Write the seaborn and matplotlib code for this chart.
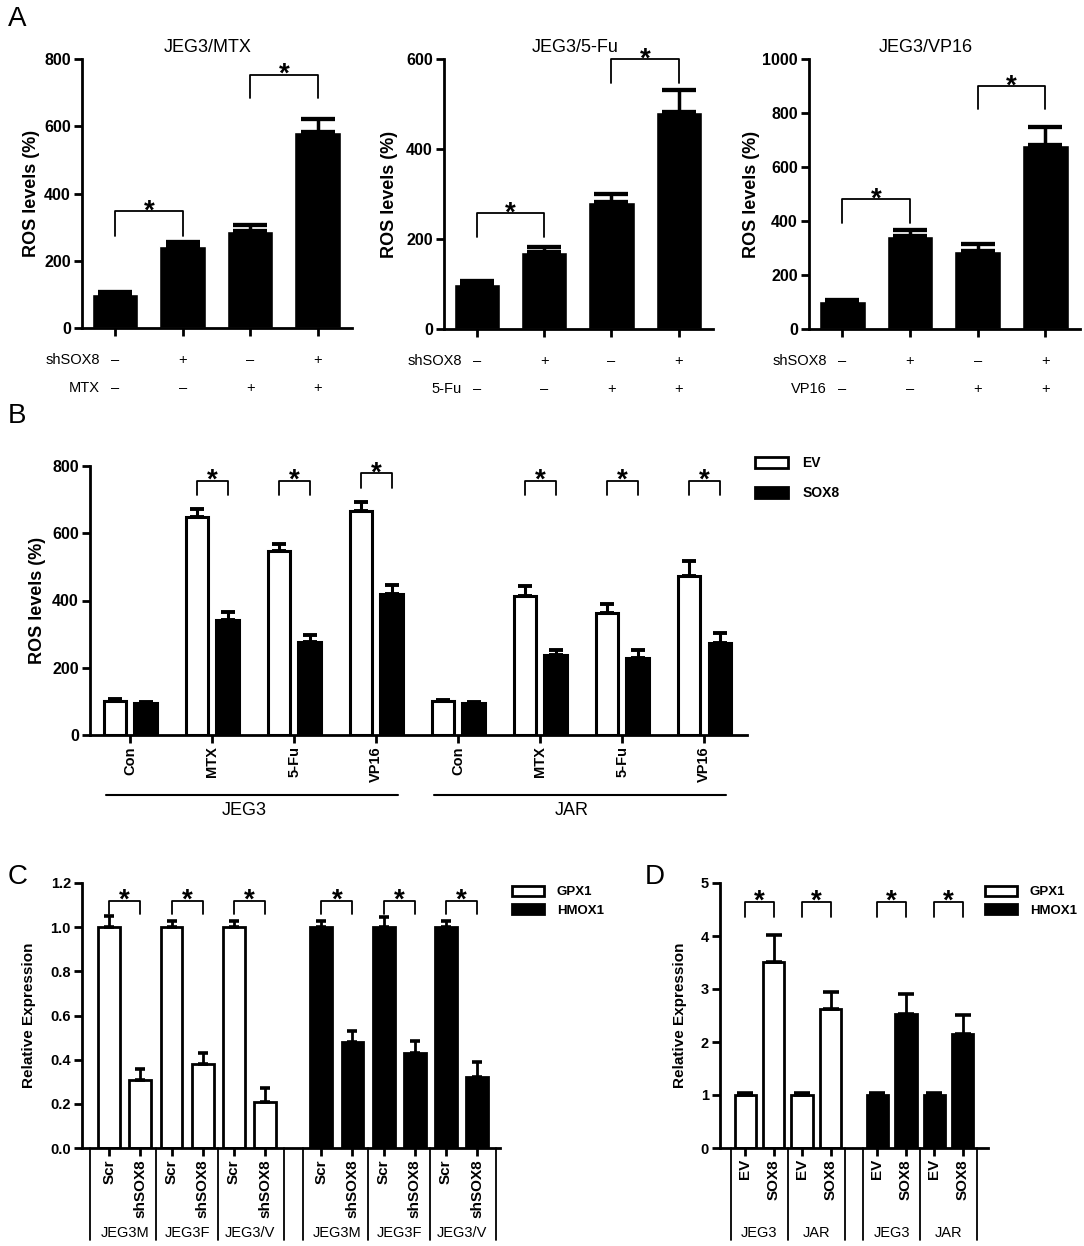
import numpy as np
import pandas as pd
import matplotlib
matplotlib.use("Agg")
import matplotlib.pyplot as plt
import matplotlib.transforms as mtransforms
from matplotlib.patches import Patch
import seaborn as sns

# ---------------- data ----------------
# A: JEG3 cells, shSOX8 and drug treatment
a_titles = ["JEG3/MTX", "JEG3/5-Fu", "JEG3/VP16"]
a_drugs = ["MTX", "5-Fu", "VP16"]
a_mtx = [102, 243, 287, 582]
a_mtx_err = [5, 12, 19, 40]
a_5fu = [101, 172, 283, 482]
a_5fu_err = [6, 11, 17, 50]
a_vp16 = [104, 344, 290, 680]
a_vp16_err = [5, 22, 23, 67]
a_ymax = [800, 600, 1000]
a_sh_signs = ["–", "+", "–", "+"]
a_drug_signs = ["–", "–", "+", "+"]
# brackets: (left bar, right bar, top, leg end)
a_brackets = [
    [(0, 1, 347, 274), (2, 3, 752, 683)],
    [(0, 1, 257, 204), (2, 3, 599, 547)],
    [(0, 1, 480, 392), (2, 3, 899, 813)],
]

# B: EV vs SOX8 overexpression
b_cells = ["JEG3", "JAR"]
b_treat = ["Con", "MTX", "5-Fu", "VP16"]
b_ev = [102, 648, 548, 665, 101, 413, 363, 472]
b_ev_err = [4, 24, 20, 27, 4, 29, 28, 44]
b_sox8 = [95, 343, 278, 418, 96, 237, 228, 274]
b_sox8_err = [3, 23, 19, 27, 3, 17, 25, 28]
b_brk_cat = [1, 2, 3, 5, 6, 7]
b_brk_top = [755, 755, 778, 755, 755, 755]
b_brk_leg = [714, 714, 735, 714, 714, 714]

# C: knockdown, relative expression
c_genes = ["GPX1", "HMOX1"]
c_lines = ["JEG3M", "JEG3F", "JEG3/V"]
c_arms = ["Scr", "shSOX8"]
c_gpx1 = [1.00, 0.31, 1.00, 0.38, 1.00, 0.21]
c_gpx1_err = [0.05, 0.05, 0.03, 0.05, 0.03, 0.06]
c_hmox1 = [1.00, 0.48, 1.00, 0.43, 1.00, 0.32]
c_hmox1_err = [0.03, 0.05, 0.045, 0.055, 0.03, 0.07]
c_brk_top, c_brk_leg = 1.12, 1.06

# D: overexpression, relative expression
d_cells = ["JEG3", "JAR"]
d_arms = ["EV", "SOX8"]
d_gpx1 = [1.00, 3.51, 1.00, 2.62]
d_gpx1_err = [0.03, 0.50, 0.04, 0.32]
d_hmox1 = [1.00, 2.52, 1.00, 2.16]
d_hmox1_err = [0.03, 0.39, 0.04, 0.35]
d_brk_top, d_brk_leg = 4.65, 4.36

# ---------------- style ----------------
sns.set_style("ticks")
plt.rcParams.update({
    "font.family": ["Liberation Sans", "DejaVu Sans"],
    "axes.edgecolor": "black", "axes.labelcolor": "black", "text.color": "black",
    "xtick.color": "black", "ytick.color": "black",
})
fills = {"EV": "white", "SOX8": "black", "GPX1": "white", "HMOX1": "black"}

W, H = 1084, 1246
fig = plt.figure(figsize=(W / 100, H / 100), dpi=100)


def place(left, top, right, bottom):
    return fig.add_axes([left / W, 1 - bottom / H, (right - left) / W, (bottom - top) / H])


def frame(ax, lw=2.0):
    sns.despine(ax=ax)
    ax.spines["left"].set_linewidth(lw)
    ax.spines["bottom"].set_linewidth(lw)
    ax.tick_params(width=lw, length=6, pad=2)
    ax.set_xlabel("")


def ylabel(ax, text, px_left, size):
    w = ax.get_position().width * W
    ax.set_ylabel(text, fontsize=size, fontweight="bold")
    ax.yaxis.label.set_va("center")
    ax.yaxis.set_label_coords(-px_left / w, 0.5)


def sorted_bars(ax):
    bars = sorted(ax.patches, key=lambda p: p.get_x())
    xs = np.array([p.get_x() + p.get_width() / 2 for p in bars])
    ys = np.array([p.get_height() for p in bars])
    return xs, ys


def error_up(ax, xs, ys, errs, cap, lw):
    ax.errorbar(xs, ys, yerr=[np.zeros(len(errs)), errs], fmt="none", ecolor="black",
                elinewidth=lw, capsize=cap, capthick=lw + 0.6)


def bracket(ax, x1, x2, top, leg, star=20, lift=-5):
    ax.plot([x1, x1, x2, x2], [leg, top, top, leg], color="black", lw=1.3, clip_on=False)
    ax.annotate("*", xy=((x1 + x2) / 2, top), xytext=(0, lift), textcoords="offset points",
                ha="center", va="baseline", fontsize=star, fontweight="bold",
                annotation_clip=False)


def legend(ax, labels, left, top, size, hl, hh, spacing):
    handles = [Patch(facecolor=fills[l], edgecolor="black", linewidth=2, label=l) for l in labels]
    ax.legend(handles=handles, loc="upper left", bbox_to_anchor=(left / W, 1 - top / H),
              bbox_transform=fig.transFigure, frameon=False, borderpad=0, borderaxespad=0,
              prop={"weight": "bold", "size": size}, handlelength=hl, handleheight=hh,
              labelspacing=spacing, handletextpad=1.0)


# ---------------- A ----------------
a_values = [a_mtx, a_5fu, a_vp16]
a_errors = [a_mtx_err, a_5fu_err, a_vp16_err]
a_boxes = [(82, 59, 352, 328), (444, 59, 713, 329), (809, 59, 1080, 329)]
a_title_x = [0.467, 0.487, 0.43]
a_ylab_px = [50, 54, 58]

for k in range(3):
    ax = place(*a_boxes[k])
    df = pd.DataFrame({"group": [s + d for s, d in zip(a_sh_signs, a_drug_signs)],
                       "ros": a_values[k]})
    sns.barplot(data=df, x="group", y="ros", color="black", saturation=1, width=0.69,
                errorbar=None, ax=ax)
    xs, ys = sorted_bars(ax)
    error_up(ax, xs, ys, a_errors[k], cap=12, lw=2.5)
    ax.set_xlim(-0.49, 3.51)
    ax.set_ylim(0, a_ymax[k])
    yt = np.arange(0, a_ymax[k] + 1, 200)
    ax.set_yticks(yt, labels=[str(v) for v in yt], fontweight="bold", fontsize=11.5)
    ax.set_xticks(range(4), labels=[])
    frame(ax)
    ax.set_title(a_titles[k], fontsize=13, x=a_title_x[k], pad=5)
    ylabel(ax, "ROS levels (%)", a_ylab_px[k], 13)
    blend = mtransforms.blended_transform_factory(ax.transData, ax.transAxes)
    for r, (name, signs) in enumerate([("shSOX8", a_sh_signs), (a_drugs[k], a_drug_signs)]):
        yr = [-0.119, -0.223][r]
        ax.text(0.066, yr, name, transform=ax.transAxes, ha="right", va="center", fontsize=10.5)
        for i, s in enumerate(signs):
            ax.text(xs[i], yr, s, transform=blend, ha="center", va="center", fontsize=10.5)
    for i, j, top, leg in a_brackets[k]:
        bracket(ax, xs[i], xs[j], top, leg)

# ---------------- B ----------------
ax = place(90, 466, 747, 735)
order = [f"{c} {t}" for c in b_cells for t in b_treat]
df_b = pd.DataFrame({"cond": order * 2,
                     "vector": ["EV"] * len(order) + ["SOX8"] * len(order),
                     "ros": b_ev + b_sox8})
sns.barplot(data=df_b, x="cond", y="ros", hue="vector", order=order, hue_order=["EV", "SOX8"],
            palette=fills, saturation=1, edgecolor="black", linewidth=2.2, width=0.75, gap=0.27,
            errorbar=None, legend=False, ax=ax)
xs, ys = sorted_bars(ax)
error_up(ax, xs, ys, np.ravel(np.column_stack([b_ev_err, b_sox8_err])), cap=5, lw=2.2)
ax.set_xlim(-0.49, 7.52)
ax.set_ylim(0, 800)
ax.set_yticks(range(0, 801, 200), labels=[str(v) for v in range(0, 801, 200)],
              fontweight="bold", fontsize=11.5)
ax.set_xticks(range(len(order)), labels=b_treat * 2, rotation=90, fontweight="bold", fontsize=10.5)
frame(ax)
ylabel(ax, "ROS levels (%)", 53, 13)
blend = mtransforms.blended_transform_factory(ax.transData, ax.transAxes)
for ci, cell in enumerate(b_cells):
    x0, x1 = ci * 4 - 0.3, ci * 4 + 3.27
    ax.plot([x0, x1], [-0.223, -0.223], transform=blend, clip_on=False, color="black", lw=1.5)
    ax.text((x0 + x1) / 2 - 0.1, -0.28, cell, transform=blend, ha="center", va="center", fontsize=13)
for k, top, leg in zip(b_brk_cat, b_brk_top, b_brk_leg):
    bracket(ax, xs[2 * k], xs[2 * k + 1], top, leg)
legend(ax, ["EV", "SOX8"], 755, 456, 10, 2.4, 0.85, 1.15)

# ---------------- C ----------------
C_GAP = 0.8
ax = place(82, 883, 500, 1148)
c_pos = [g * (6 + C_GAP) + i for g in range(2) for i in range(6)]
df_c = pd.DataFrame({"pos": c_pos, "gene": ["GPX1"] * 6 + ["HMOX1"] * 6,
                     "expr": c_gpx1 + c_hmox1})
sns.barplot(data=df_c, x="pos", y="expr", hue="gene", hue_order=c_genes, palette=fills,
            native_scale=True, dodge=False, saturation=1, edgecolor="black", linewidth=2,
            width=0.7, errorbar=None, legend=False, ax=ax)
xs, ys = sorted_bars(ax)
error_up(ax, xs, ys, c_gpx1_err + c_hmox1_err, cap=3.8, lw=2)
ax.set_xlim(-0.87, 12.53)
ax.set_ylim(0, 1.2)
yt = np.round(np.arange(0, 1.21, 0.2), 1)
ax.set_yticks(yt, labels=[f"{v:.1f}" for v in yt], fontweight="bold", fontsize=10.5)
ax.set_xticks(xs, labels=c_arms * 6, rotation=90, fontweight="bold", fontsize=11)
frame(ax)
ylabel(ax, "Relative Expression", 53, 11)
blend = mtransforms.blended_transform_factory(ax.transData, ax.transAxes)
for g in range(2):
    b0 = g * (6 + C_GAP)
    for xv in [b0 - 0.6, b0 + 1.5, b0 + 3.5, b0 + 5.6]:
        ax.plot([xv, xv], [0, -0.347], transform=blend, clip_on=False, color="black", lw=1.3)
    for li, name in enumerate(c_lines):
        ax.text(b0 + 0.5 + 2 * li, -0.32, name, transform=blend, ha="center", va="center",
                fontsize=10.5)
for p in range(6):
    bracket(ax, xs[2 * p], xs[2 * p + 1], c_brk_top, c_brk_leg)
legend(ax, c_genes, 512, 886, 9.5, 2.4, 0.76, 0.45)

# ---------------- D ----------------
D_GAP = 0.65
ax = place(720, 883, 988, 1148)
d_pos = [g * (4 + D_GAP) + i for g in range(2) for i in range(4)]
df_d = pd.DataFrame({"pos": d_pos, "gene": ["GPX1"] * 4 + ["HMOX1"] * 4,
                     "expr": d_gpx1 + d_hmox1})
sns.barplot(data=df_d, x="pos", y="expr", hue="gene", hue_order=c_genes, palette=fills,
            native_scale=True, dodge=False, saturation=1, edgecolor="black", linewidth=2,
            width=0.74, errorbar=None, legend=False, ax=ax)
xs, ys = sorted_bars(ax)
error_up(ax, xs, ys, d_gpx1_err + d_hmox1_err, cap=5.5, lw=2)
ax.set_xlim(-0.88, 8.53)
ax.set_ylim(0, 5)
ax.set_yticks(range(6), labels=[str(v) for v in range(6)], fontweight="bold", fontsize=10.5)
ax.set_xticks(xs, labels=d_arms * 4, rotation=90, fontweight="bold", fontsize=11)
frame(ax)
ylabel(ax, "Relative Expression", 40, 11)
blend = mtransforms.blended_transform_factory(ax.transData, ax.transAxes)
for g in range(2):
    b0 = g * (4 + D_GAP)
    for xv in [b0 - 0.5, b0 + 1.5, b0 + 3.5]:
        ax.plot([xv, xv], [0, -0.347], transform=blend, clip_on=False, color="black", lw=1.3)
    for ci, name in enumerate(d_cells):
        ax.text(b0 + 0.5 + 2 * ci, -0.32, name, transform=blend, ha="center", va="center",
                fontsize=10.5)
for p in range(4):
    bracket(ax, xs[2 * p], xs[2 * p + 1], d_brk_top, d_brk_leg)
legend(ax, c_genes, 985, 886, 9.5, 2.4, 0.76, 0.45)

# panel letters
for letter, (px, py) in zip("ABCD", [(8, 6), (8, 403), (8, 864), (645, 864)]):
    fig.text(px / W, 1 - py / H, letter, fontsize=20, ha="left", va="top")

fig.savefig("out.png", dpi=100)
